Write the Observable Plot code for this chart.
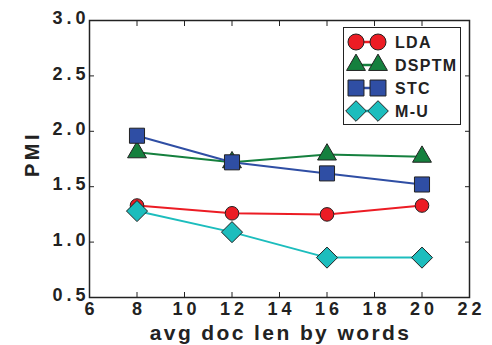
<!DOCTYPE html>
<html><head><meta charset="utf-8">
<script src="https://cdn.jsdelivr.net/npm/d3@7"></script>
<script src="https://cdn.jsdelivr.net/npm/@observablehq/plot@0.6"></script>
<style>
body{margin:0;background:#fff;}
#wrap{position:relative;width:492px;height:345px;overflow:hidden;font-family:"Liberation Sans",Arial,sans-serif;}
#legend{position:absolute;left:343px;top:27px;width:116px;height:96px;border:1.5px solid #222;background:#fff;}
#legend svg{position:absolute;left:0;top:0;}
</style>
</head><body>
<div id="wrap"></div>
<script>
const docLen = [8, 12, 16, 20];
const seriesNames = ["LDA", "DSPTM", "STC", "M-U"];
const ldaVals = [1.33, 1.26, 1.25, 1.33];
const dsptmVals = [1.81, 1.72, 1.79, 1.77];
const stcVals = [1.96, 1.72, 1.62, 1.52];
const muVals = [1.28, 1.09, 0.86, 0.86];
const xTicks = [6, 8, 10, 12, 14, 16, 18, 20, 22];
const yTicks = [0.5, 1.0, 1.5, 2.0, 2.5, 3.0];
const xLabel = "avg doc len by words";
const yLabel = "PMI";
const colors = ["#ec1c24", "#15803e", "#2f4ea4", "#1cbdbd"];
const symbols = ["circle", "triangle", "square", "diamond2"];
const radii = [6.8, 7, 8.5, 9.5];
const legendRadii = [8, 9, 9, 9.3];

const allVals = [ldaVals, dsptmVals, stcVals, muVals];
const rows = [];
seriesNames.forEach((s, i) => docLen.forEach((x, j) => rows.push({series: s, x, y: allVals[i][j]})));

const ff = "Liberation Sans, Arial, sans-serif";
const tickFont = {fontFamily: ff, fontWeight: "bold", fontSize: 18, fill: "#222"};
const innerX = xTicks.slice(1, -1);
const innerY = yTicks.slice(1, -1);

const marks = [
  Plot.frame({stroke: "#222", strokeWidth: 1.5}),
  Plot.axisX({ticks: xTicks, tickSize: 0, tickPadding: 5, dx: 2, ...tickFont, label: null}),
  Plot.axisY({ticks: yTicks, tickSize: 0, tickPadding: 3, dx: 3, dy: -2, tickFormat: d3.format(".1f"), ...tickFont, label: null}),
  Plot.axisX({anchor: "bottom", ticks: innerX, tickSize: -5, tickFormat: () => "", stroke: "#222", label: null}),
  Plot.axisX({anchor: "top", ticks: innerX, tickSize: -5, tickFormat: () => "", stroke: "#222", label: null}),
  Plot.axisY({anchor: "left", ticks: innerY, tickSize: -5, tickFormat: () => "", stroke: "#222", label: null}),
  Plot.axisY({anchor: "right", ticks: innerY, tickSize: -5, tickFormat: () => "", stroke: "#222", label: null}),
  Plot.text([xLabel], {frameAnchor: "bottom", textAnchor: "middle", lineAnchor: "middle", dy: 36, dx: 1, fontSize: 21, fill: "#222", fontFamily: ff, fontWeight: "bold"}),
  Plot.text([yLabel], {frameAnchor: "left", textAnchor: "middle", lineAnchor: "middle", dx: -57, dy: -5, rotate: -90, fontSize: 20, fill: "#222", fontFamily: ff, fontWeight: "bold"}),
];
seriesNames.forEach((s, i) => {
  const d = rows.filter(r => r.series === s);
  marks.push(Plot.line(d, {x: "x", y: "y", stroke: colors[i], strokeWidth: 2}));
  marks.push(Plot.dot(d, {x: "x", y: "y", symbol: () => symbols[i], r: radii[i], fill: colors[i], stroke: "#222", strokeWidth: 1}));
});

const chart = Plot.plot({
  width: 492, height: 345,
  marginLeft: 89, marginRight: 23, marginTop: 20, marginBottom: 48,
  x: {domain: [6, 22]},
  y: {domain: [0.5, 3.0]},
  style: {background: "#fff", overflow: "visible"},
  marks
});
document.getElementById("wrap").appendChild(chart);

// letter spacing (not a Plot option)
const sel = d3.select(chart);
sel.selectAll('g[aria-label="x-axis tick label"] text, g[aria-label="y-axis tick label"] text').attr("letter-spacing", "4px");
sel.selectAll('g[aria-label="text"] text').each(function() {
  const t = d3.select(this).text();
  if (t === xLabel) d3.select(this).attr("letter-spacing", "2.4px");
  if (t === yLabel) d3.select(this).attr("letter-spacing", "3.5px");
});

// legend
const symMap = {circle: d3.symbolCircle, triangle: d3.symbolTriangle2, square: d3.symbolSquare, diamond2: d3.symbolDiamond2};
const lg = d3.select("#wrap").append("div").attr("id", "legend");
const svg = lg.append("svg").attr("width", 116).attr("height", 96);
seriesNames.forEach((s, i) => {
  const yy = 14 + i * 23;
  const g = svg.append("g");
  g.append("line").attr("x1", 12).attr("x2", 34).attr("y1", yy).attr("y2", yy).attr("stroke", colors[i]).attr("stroke-width", 2.5);
  const sym = d3.symbol(symMap[symbols[i]], Math.PI * legendRadii[i] * legendRadii[i]);
  [12, 34].forEach(cx => g.append("path").attr("d", sym()).attr("transform", `translate(${cx},${yy})`).attr("fill", colors[i]).attr("stroke", "#222").attr("stroke-width", 1));
  g.append("text").attr("x", 51).attr("y", yy + 6).text(s).attr("font-size", 16).attr("font-weight", "bold").attr("letter-spacing", "1.3px").attr("fill", "#222").attr("font-family", ff);
});
</script>
</body></html>
